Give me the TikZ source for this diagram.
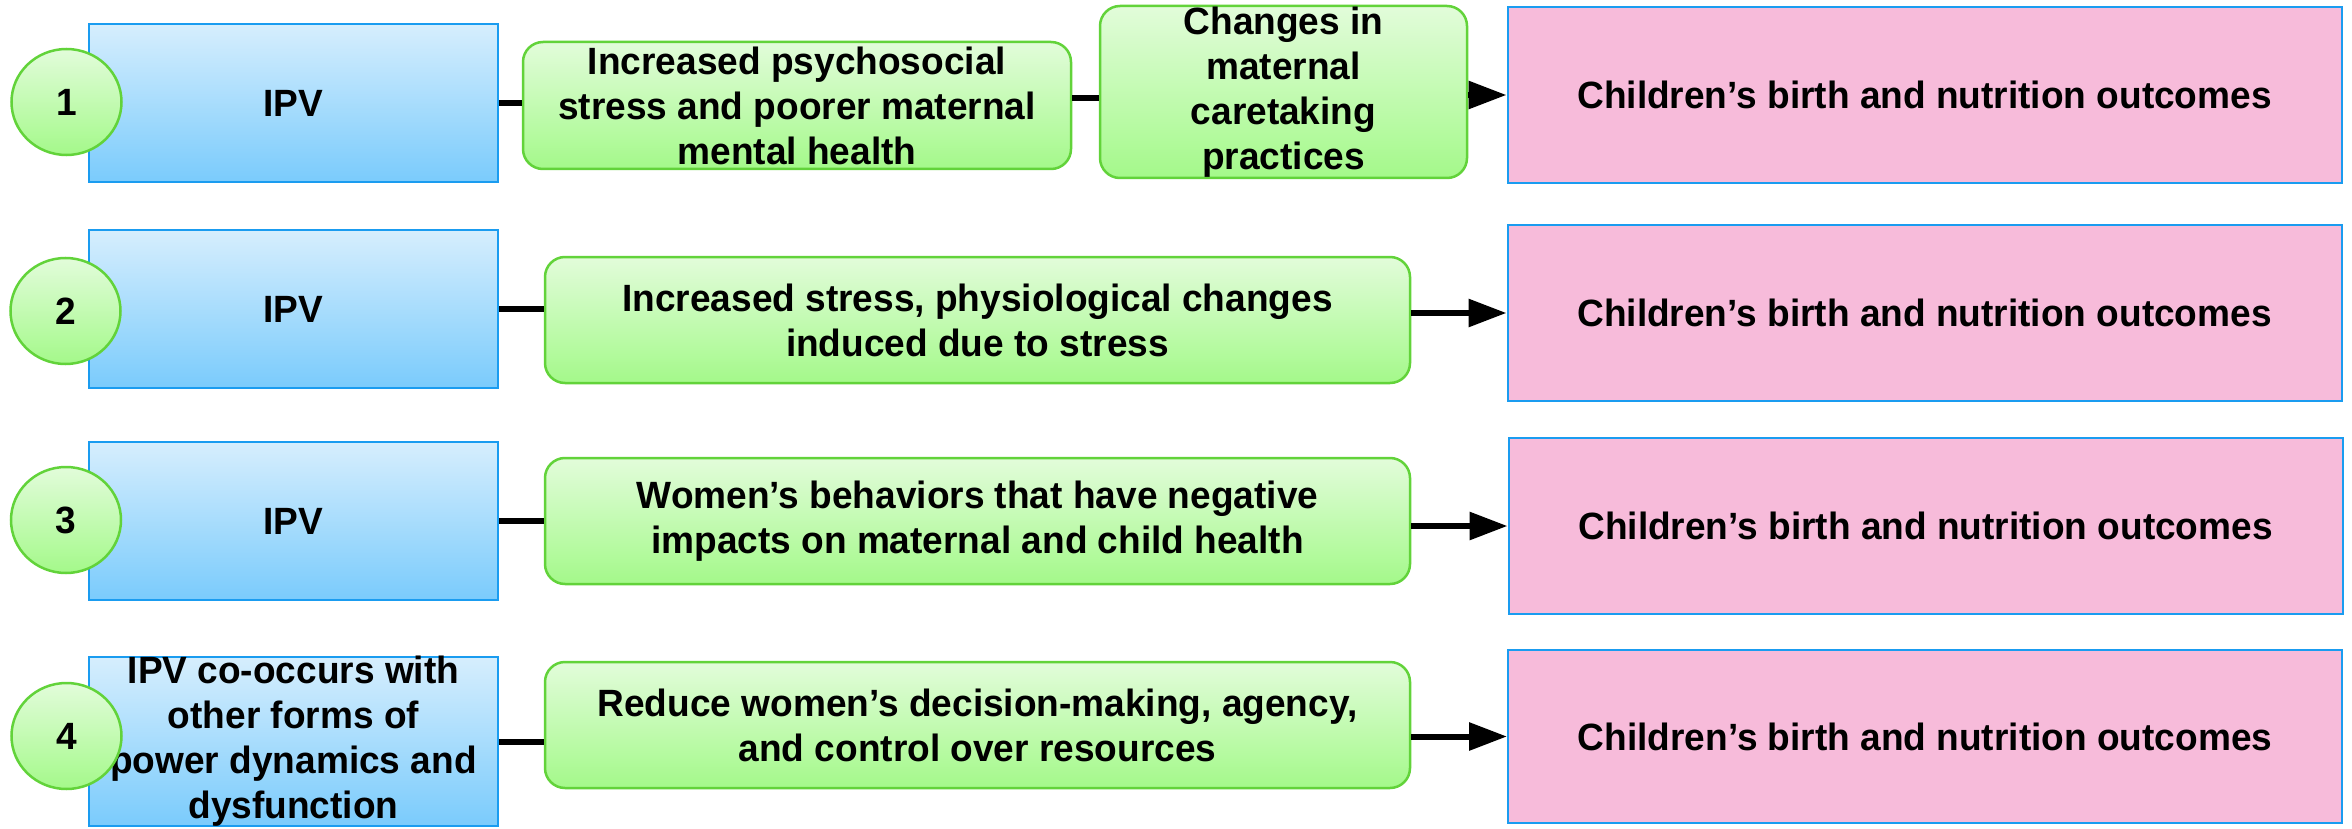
\documentclass[tikz,border=0pt]{standalone}
\usepackage{fontspec}
\setmainfont{Liberation Sans}[FakeStretch=0.975]
\usetikzlibrary{arrows.meta,calc,shapes.geometric}

\definecolor{bluetop}{HTML}{D6EEFD}
\definecolor{bluebot}{HTML}{7ACBFC}
\definecolor{blueline}{HTML}{1A9CF0}
\definecolor{greentop}{HTML}{E2FCDA}
\definecolor{greenbot}{HTML}{A4F98A}
\definecolor{greenline}{HTML}{62D33A}
\definecolor{pinkfill}{HTML}{F7BBDA}

\tikzset{
  every node/.style={font=\fontsize{38}{45}\selectfont\bfseries, align=center, inner sep=0pt},
  ipvbox/.style={draw=blueline, line width=2.5pt, top color=bluetop, bottom color=bluebot,
    minimum width=409pt},
  midbox/.style={draw=greenline, line width=2.5pt, rounded corners=20pt,
    top color=greentop, bottom color=greenbot},
  outbox/.style={draw=blueline, line width=2pt, fill=pinkfill, minimum width=834pt},
  numdisc/.style={ellipse, draw=greenline, line width=2.5pt, top color=greentop,
    bottom color=greenbot, minimum width=110pt, minimum height=106pt},
  conn/.style={line width=6pt, black},
  arr/.style={line width=6pt, black, -{Triangle[length=38pt,width=27pt]}}
}

\begin{document}
\begin{tikzpicture}[x=1pt,y=-1pt]
\useasboundingbox (0,0) rectangle (2352,829);

% ---- pathway 1
\node[ipvbox, minimum height=158pt] (i1) at (293.5,103) {IPV};
\node[midbox, minimum width=548pt, minimum height=127pt] (g1a) at (797,105.5)
  {Increased psychosocial\\stress and poorer maternal\\mental health};
\node[midbox, minimum width=367pt, minimum height=172pt,
  label={[name=g1bt]center:{\fontsize{38}{46}\selectfont Changes in\\maternal\\caretaking\\practices}}]
  (g1b) at (1283.5,92) {};
\node[outbox, minimum height=176pt] (p1) at (1924.5,95) {Children’s birth and nutrition outcomes};
\node[numdisc] (c1) at (66.5,102) {1};
\coordinate (m1) at (0,98);
\draw[conn] (i1.east) -- (i1.east -| g1a.west);
\draw[conn] (g1a.east |- m1) -- (g1b.west |- m1);
\draw[arr] (g1b.east |- p1.west) -- (p1.west);

% ---- pathway 2
\node[ipvbox, minimum height=158pt] (i2) at (293.5,309) {IPV};
\node[midbox, minimum width=865pt, minimum height=126pt] (g2) at (977.5,320)
  {Increased stress, physiological changes\\induced due to stress};
\node[outbox, minimum height=176pt] (p2) at (1924.5,313) {Children’s birth and nutrition outcomes};
\node[numdisc] (c2) at (65.5,311) {2};
\draw[conn] (i2.east) -- (i2.east -| g2.west);
\draw[arr] (g2.east |- p2.west) -- (p2.west);

% ---- pathway 3
\node[ipvbox, minimum height=158pt] (i3) at (293.5,521) {IPV};
\node[midbox, minimum width=865pt, minimum height=126pt] (g3) at (977.5,521)
  {Women’s behaviors that have negative\\impacts on maternal and child health};
\node[outbox, minimum height=176pt] (p3) at (1925.5,526) {Children’s birth and nutrition outcomes};
\node[numdisc] (c3) at (66,520) {3};
\draw[conn] (i3.east) -- (i3.east -| g3.west);
\draw[arr] (g3.east |- p3.west) -- (p3.west);

% ---- pathway 4
\node[ipvbox, minimum height=169pt,
  label={[name=i4t]center:{IPV co-occurs with\\other forms of\\power dynamics and\\dysfunction}}]
  (i4) at (293.5,741.5) {};
\node[midbox, minimum width=865pt, minimum height=126pt] (g4) at (977.5,725)
  {Reduce women’s decision-making, agency,\\and control over resources};
\node[outbox, minimum height=173pt] (p4) at (1925,736.5) {Children’s birth and nutrition outcomes};
\node[numdisc] (c4) at (66.5,736) {4};
\draw[conn] (i4.east) -- (i4.east -| g4.west);
\draw[arr] (g4.east |- p4.west) -- (p4.west);
\end{tikzpicture}
\end{document}
